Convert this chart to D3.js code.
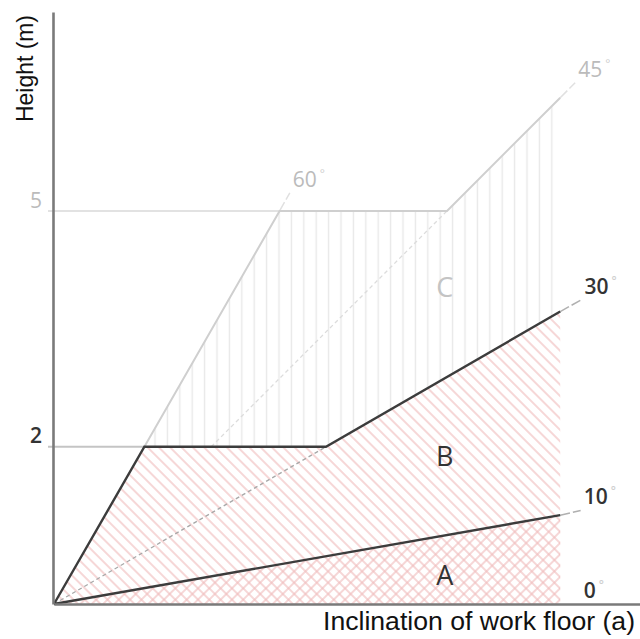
<!DOCTYPE html>
<html>
<head>
<meta charset="utf-8">
<script src="https://cdn.jsdelivr.net/npm/d3@7"></script>
<style>
  html, body { margin: 0; padding: 0; background: #fff; }
  svg { display: block; }
  .num { font-family: "Open Sans", sans-serif; }
  .title { font-family: "Liberation Sans", Arial, sans-serif; fill: #111; }
</style>
</head>
<body>
<div id="chart"></div>
<script>
'use strict';

// Heights marked on the vertical axis (m)
var heightTicks = [2, 5];
var heightTickColors = ['#333', '#bbb'];

// Boundaries, as [horizontal m, height m]
var lineA = [[0, 0], [6.44, 1.13]];                              // 10 deg
var lineB = [[0, 0], [1.15, 2], [3.46, 2], [6.44, 3.72]];         // 60 deg -> 2 m -> 30 deg
var lineC = [[1.15, 2], [2.87, 5], [5.0, 5], [6.44, 6.44]];       // 60 deg -> 5 m -> 45 deg

// Dashed guide rays inside the zones
var ray30 = [[0, 0], [3.46, 2]];
var ray45 = [[2, 2], [5.0, 5]];

// Angle labels and the end of their short dashed leader
var angleLabels = ['0', '10', '30', '45', '60'];
var angleColors = ['#333', '#333', '#333', '#bbb', '#bbb'];
var leaderFrom = [[6.44, 0], [6.44, 1.13], [6.44, 3.72], [6.44, 6.44], [2.87, 5]];
var leaderTo = [[6.70, 0], [6.70, 1.19], [6.71, 3.87], [6.63, 6.63], [3.00, 5.23]];

// Zone letters
var zones = ['A', 'B', 'C'];
var zoneColors = ['#333', '#333', '#c4c4c4'];
var zoneX = 4.97;
var zoneHeights = [0.37, 1.88, 4.03];

var width = 640, height = 639;
var margin = {top: 12, right: 0, bottom: 35, left: 54};

var x = d3.scaleLinear().domain([0, 7.455]).range([margin.left, width - margin.right]);
var y = d3.scaleLinear().domain([0, 7.53]).range([height - margin.bottom, margin.top]);

var svg = d3.select('#chart').append('svg')
  .attr('width', width)
  .attr('height', height);

var defs = svg.append('defs');

// line hatch, rotated: -45 gives '\', 45 gives '/', 0 vertical
function hatch(id, angle, color, gap, sw) {
  var p = defs.append('pattern')
    .attr('id', id)
    .attr('patternUnits', 'userSpaceOnUse')
    .attr('width', gap)
    .attr('height', gap)
    .attr('patternTransform', 'rotate(' + angle + ')');
  p.append('line')
    .attr('x1', gap / 2).attr('y1', 0)
    .attr('x2', gap / 2).attr('y2', gap)
    .attr('stroke', color)
    .attr('stroke-width', sw);
}
hatch('back', -45, '#f0bcbc', 8, 1.2);
hatch('fwd', 45, '#f0bcbc', 8, 1.2);
hatch('vert', 0, '#e8e8e8', 12.4, 1.4);

var line = d3.line()
  .x(function(d) { return x(d[0]); })
  .y(function(d) { return y(d[1]); });

var right = lineA[1][0];

// zone polygons built from the boundaries
var zoneAB = lineB.concat([[right, 0]]);
var zoneA = lineA.concat([[right, 0]]);
var zoneC = lineC.concat(lineB.slice(2).reverse());

svg.append('path').attr('d', line(zoneC) + 'Z').attr('fill', 'url(#vert)');
svg.append('path').attr('d', line(zoneAB) + 'Z').attr('fill', 'url(#back)');
svg.append('path').attr('d', line(zoneA) + 'Z').attr('fill', 'url(#fwd)');

// height guides from the axis to the boundary corner
var guideEnds = [lineB[1][0], lineC[1][0]];
svg.selectAll('.guide')
  .data(heightTicks).enter()
  .append('line')
    .attr('class', 'guide')
    .attr('x1', x(0) - 6)
    .attr('x2', function(d, i) { return x(guideEnds[i]); })
    .attr('y1', function(d) { return y(d); })
    .attr('y2', function(d) { return y(d); })
    .attr('stroke', function(d, i) { return i ? '#e2e2e2' : '#c4c4c4'; })
    .attr('stroke-width', 2);

// dashed rays
svg.append('path').attr('d', line(ray30))
  .attr('fill', 'none').attr('stroke', '#a8a8a8')
  .attr('stroke-width', 1.3).attr('stroke-dasharray', '4,3');
svg.append('path').attr('d', line(ray45))
  .attr('fill', 'none').attr('stroke', '#dcdcdc')
  .attr('stroke-width', 1.3).attr('stroke-dasharray', '4,3');

// leaders to the angle labels
svg.selectAll('.leader')
  .data(angleLabels).enter()
  .append('line')
    .attr('class', 'leader')
    .attr('x1', function(d, i) { return x(leaderFrom[i][0]); })
    .attr('y1', function(d, i) { return y(leaderFrom[i][1]); })
    .attr('x2', function(d, i) { return x(leaderTo[i][0]); })
    .attr('y2', function(d, i) { return y(leaderTo[i][1]); })
    .attr('stroke', function(d, i) { return i === 0 ? 'none' : (i > 2 ? '#e0e0e0' : '#b0b0b0'); })
    .attr('stroke-width', 1.5)
    .attr('stroke-dasharray', '10,3');

// boundaries
svg.append('path').attr('d', line(lineC))
  .attr('fill', 'none').attr('stroke', '#cfcfcf').attr('stroke-width', 2);
svg.append('path').attr('d', line(lineB))
  .attr('fill', 'none').attr('stroke', '#3c3c3c').attr('stroke-width', 2.4);
svg.append('path').attr('d', line(lineA))
  .attr('fill', 'none').attr('stroke', '#3c3c3c').attr('stroke-width', 2.4);

// axes
var yAxis = svg.append('g')
  .attr('transform', 'translate(' + (x(0) - 1) + ',0)')
  .call(d3.axisLeft(y).tickValues(heightTicks).tickSize(0).tickSizeOuter(0).tickPadding(11));
var xAxis = svg.append('g')
  .attr('transform', 'translate(0,' + y(0) + ')')
  .call(d3.axisBottom(x).tickValues([]).tickSizeOuter(0));

svg.selectAll('.domain').attr('stroke', '#7a7a7a').attr('stroke-width', 2.6);
yAxis.selectAll('.tick text')
  .attr('class', 'num')
  .attr('dy', '-0.18em')
  .attr('font-size', 21)
  .attr('font-weight', function(d, i) { return i ? 400 : 600; })
  .attr('fill', function(d, i) { return heightTickColors[i]; });

// angle labels with degree marks
var al = svg.selectAll('.angle')
  .data(angleLabels).enter()
  .append('text')
    .attr('class', 'num angle')
    .attr('x', function(d, i) { return x(leaderTo[i][0]) + 3; })
    .attr('y', function(d, i) { return y(leaderTo[i][1]) - 6; })
    .attr('font-size', 21)
    .attr('font-weight', function(d, i) { return i > 2 ? 400 : 600; })
    .attr('fill', function(d, i) { return angleColors[i]; });
al.append('tspan').text(function(d) { return d; });
al.append('tspan')
  .attr('dx', 3)
  .attr('dy', -9)
  .attr('font-size', 12)
  .attr('fill', '#cfcfcf')
  .text('\u00B0');

// zone letters
svg.selectAll('.zone')
  .data(zones).enter()
  .append('text')
    .attr('class', 'num zone')
    .attr('x', x(zoneX))
    .attr('y', function(d, i) { return y(zoneHeights[i]); })
    .attr('dy', '0.36em')
    .attr('text-anchor', 'middle')
    .attr('font-size', 27)
    .attr('fill', function(d, i) { return zoneColors[i]; })
    .text(function(d) { return d; });

// axis titles (condensed face is squeezed to the reference width)
svg.append('text')
  .attr('class', 'title')
  .attr('transform', 'translate(33,15) rotate(-90)')
  .attr('text-anchor', 'end')
  .attr('font-size', 24)
  .attr('textLength', 107)
  .attr('lengthAdjust', 'spacingAndGlyphs')
  .text('Height (m)');

svg.append('text')
  .attr('class', 'title')
  .attr('x', 635)
  .attr('y', 630)
  .attr('text-anchor', 'end')
  .attr('font-size', 26)
  .attr('textLength', 312)
  .attr('lengthAdjust', 'spacingAndGlyphs')
  .text('Inclination of work floor (a)');
</script>
</body>
</html>
